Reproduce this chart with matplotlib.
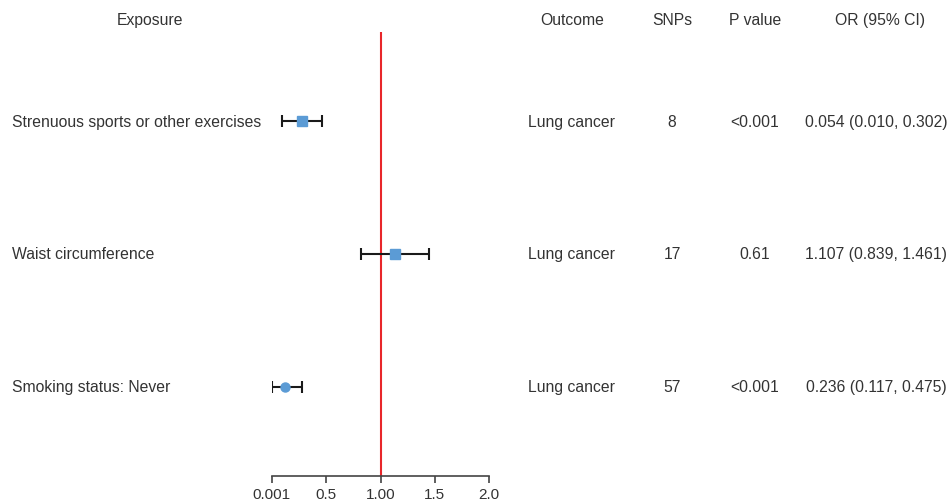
import matplotlib
matplotlib.use("Agg")
import matplotlib.pyplot as plt
from matplotlib.transforms import blended_transform_factory

plt.rcParams["font.family"] = ["Liberation Sans", "DejaVu Sans"]

exposures = ["Strenuous sports or other exercises", "Waist circumference", "Smoking status: Never"]
outcomes = ["Lung cancer", "Lung cancer", "Lung cancer"]
snps = ["8", "17", "57"]
pvals = ["<0.001", "0.61", "<0.001"]
or_text = ["0.054 (0.010, 0.302)", "1.107 (0.839, 1.461)", "0.236 (0.117, 0.475)"]

# positions as drawn on the plot axis
est = [0.276, 1.133, 0.12]
lo = [0.092, 0.82, 0.0]
hi = [0.46, 1.449, 0.283]
markers = ["s", "s", "o"]

xticks = [0.0, 0.5, 1.0, 1.5, 2.0]
xticklabels = ["0.001", "0.5", "1.00", "1.5", "2.0"]

W, H = 949, 502
fig = plt.figure(figsize=(W / 100, H / 100), dpi=100)
ax = fig.add_axes([271.7 / W, (H - 476.7) / H, (489.3 - 271.7) / W, (476.7 - 33) / H])

rows = list(range(len(exposures)))
blue = "#5b9bd5"
for y, e, l, h, m in zip(rows, est, lo, hi, markers):
    ax.errorbar(e, y, xerr=[[e - l], [h - e]], fmt="none", ecolor="#1a1a1a",
                elinewidth=1.5, capsize=4, capthick=1.5, zorder=2)
    ax.plot(e, y, marker=m, ms=6.5, color=blue, mec=blue, ls="none", zorder=3)

ax.axvline(1.0, color="#e8262a", lw=1.5, zorder=1)
ax.set_xlim(0, 2)
ax.set_ylim(2.67, -0.67)
ax.set_yticks([])
for s in ("left", "top", "right"):
    ax.spines[s].set_visible(False)
ax.spines["bottom"].set_color("#444444")
ax.spines["bottom"].set_linewidth(1.2)
ax.set_xticks(xticks)
ax.set_xticklabels(xticklabels)
ax.tick_params(axis="x", length=5, width=1.2, color="#444444",
               labelsize=11, labelcolor="#333333", pad=3)

tr = blended_transform_factory(fig.transFigure, ax.transData)
txt = dict(fontsize=11.3, color="#333333", va="center", transform=tr, clip_on=False)

# column headers
hy = -0.67 - 13 / 133
heads = [("Exposure", 150), ("Outcome", 572), ("SNPs", 672), ("P value", 755), ("OR (95% CI)", 880)]
for t, x in heads:
    ax.text(x / W, hy, t, ha="center", **txt)

for y in rows:
    ax.text(12 / W, y, exposures[y], ha="left", **txt)
    ax.text(572 / W, y, outcomes[y], ha="center", **txt)
    ax.text(672 / W, y, snps[y], ha="center", **txt)
    ax.text(755 / W, y, pvals[y], ha="center", **txt)
    ax.text(876 / W, y, or_text[y], ha="center", **txt)

fig.savefig("out.png", dpi=100)
